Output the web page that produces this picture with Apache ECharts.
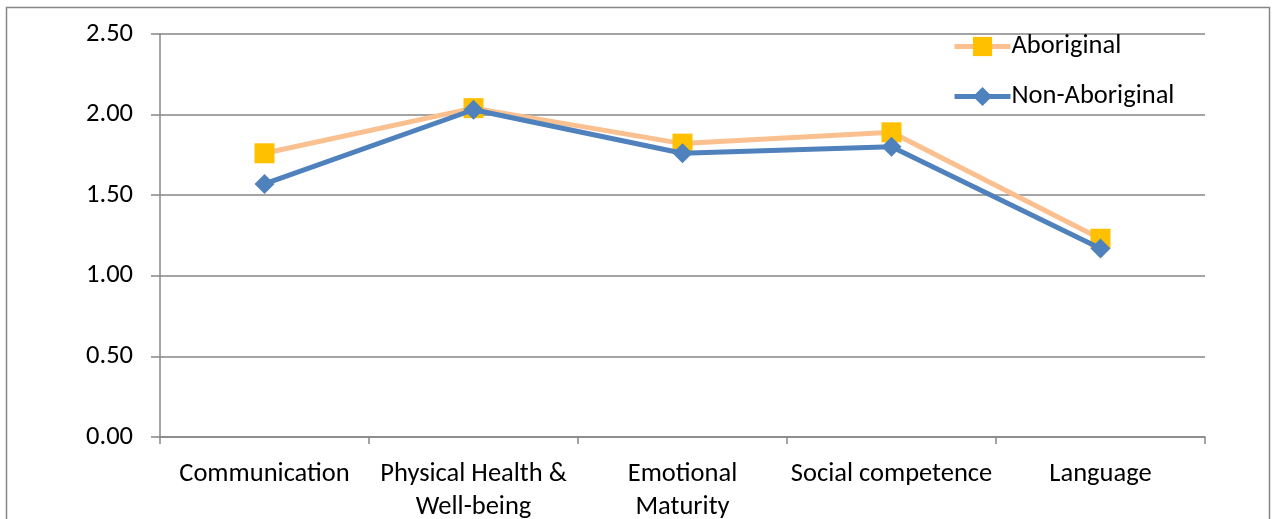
<!DOCTYPE html>
<html>
<head>
<meta charset="utf-8">
<style>
  html, body { margin: 0; padding: 0; background: #fff; }
  #chart { width: 1276px; height: 519px; }
</style>
<script src="https://cdn.jsdelivr.net/npm/echarts@6/dist/echarts.min.js"></script>
</head>
<body>
<div id="chart"></div>
<script>
// Domain categories (with the line breaks used on the axis)
const categories = [
  'Communication',
  'Physical Health &\nWell-being',
  'Emotional\nMaturity',
  'Social competence',
  'Language'
];
const aboriginal = [1.76, 2.04, 1.82, 1.89, 1.23];
const nonAboriginal = [1.57, 2.03, 1.76, 1.80, 1.17];
const seriesNames = ['Aboriginal', 'Non-Aboriginal'];

const FONT = 'Carlito, Calibri, "Liberation Sans", sans-serif';
const FONT_SIZE = 26.5;
const GRID_GRAY = '#868686';

const chart = echarts.init(document.getElementById('chart'), null, { renderer: 'canvas' });

chart.setOption({
  animation: false,
  backgroundColor: '#fff',
  textStyle: { fontFamily: FONT },
  graphic: [{
    type: 'rect',
    shape: { x: 6.5, y: 7.5, width: 1263, height: 530 },
    style: { fill: 'none', stroke: GRID_GRAY, lineWidth: 1.5 },
    silent: true,
    z: -1
  }],
  grid: {
    left: 160, right: 71, top: 34, bottom: 82,
    containLabel: false,
    outerBoundsMode: 'none'
  },
  legend: {
    orient: 'vertical',
    left: 952,
    top: 33,
    padding: 0,
    itemWidth: 56,
    itemHeight: 24,
    itemGap: 23,
    lineStyle: { width: 5 },
    textStyle: { fontFamily: FONT, fontSize: FONT_SIZE, color: '#000', padding: [0, 0, 0, -4] },
    data: seriesNames
  },
  xAxis: {
    type: 'category',
    data: categories,
    boundaryGap: true,
    axisLine: { lineStyle: { color: GRID_GRAY, width: 1.5 } },
    axisTick: { show: true, length: 7, lineStyle: { color: GRID_GRAY, width: 1.5 } },
    axisLabel: {
      fontFamily: FONT, fontSize: FONT_SIZE, color: '#000', margin: 21,
      lineHeight: 33, interval: 0
    }
  },
  yAxis: {
    type: 'value',
    min: 0,
    max: 2.5,
    interval: 0.5,
    axisLine: { show: true, lineStyle: { color: GRID_GRAY, width: 1.5 } },
    axisTick: { show: true, length: 9, lineStyle: { color: GRID_GRAY, width: 1.5 } },
    splitLine: { show: true, lineStyle: { color: GRID_GRAY, width: 1.5 } },
    axisLabel: {
      fontFamily: FONT, fontSize: FONT_SIZE, color: '#000', margin: 27,
      formatter: v => v.toFixed(2)
    }
  },
  series: [
    {
      name: seriesNames[0],
      type: 'line',
      data: aboriginal,
      symbol: 'rect',
      symbolSize: 20,
      itemStyle: { color: '#FFC000' },
      lineStyle: { color: '#FAC090', width: 5 },
      z: 2
    },
    {
      name: seriesNames[1],
      type: 'line',
      data: nonAboriginal,
      symbol: 'diamond',
      symbolSize: 20,
      itemStyle: { color: '#4F81BD' },
      lineStyle: { color: '#4F81BD', width: 5 },
      z: 3
    }
  ]
});
</script>
</body>
</html>
